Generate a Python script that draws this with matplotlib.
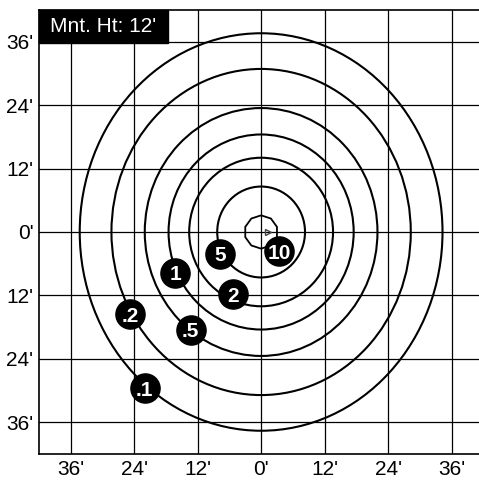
import matplotlib
matplotlib.use('Agg')
import matplotlib.pyplot as plt
from matplotlib.patches import Ellipse, RegularPolygon, Rectangle

plt.rcParams['font.family'] = ['Liberation Sans', 'DejaVu Sans']

# iso-footcandle contours (feet), centred on the luminaire
levels = ['.1', '.2', '.5', '1', '2', '5']
half_w = [34.3, 28.3, 22.0, 17.5, 13.6, 8.3]
half_h = [37.6, 30.85, 23.45, 18.45, 14.05, 8.6]
inner_level = '10'
inner_r = 3.15

# label bubbles
lab_text = ['.1', '.2', '.5', '1', '2', '5', '10']
lab_x = [-22.0, -24.7, -13.3, -16.2, -5.3, -7.8, 3.35]
lab_y = [-29.6, -15.6, -18.45, -7.7, -11.8, -4.1, -3.6]

ticks = [-36, -24, -12, 0, 12, 24, 36]
tick_labels = ["36'", "24'", "12'", "0'", "12'", "24'", "36'"]
mount = "Mnt. Ht: 12'"

fig = plt.figure(figsize=(4.79, 4.80), dpi=100)
ax = fig.add_axes([39/479, 26/480, 440/479, 444/480])

for w, h in zip(half_w, half_h):
    ax.add_patch(Ellipse((0, 0), 2*w, 2*h, fill=False, ec='black', lw=1.5, zorder=3))
ax.add_patch(RegularPolygon((0, 0), numVertices=10, radius=inner_r, fill=False,
                            ec='black', lw=1.3, zorder=3))

# luminaire marker
ax.plot([1.3], [0], marker='>', ms=5, mfc='none', mec='#444444', mew=1, zorder=4)

for t, x, y in zip(lab_text, lab_x, lab_y):
    ax.plot([x], [y], 'o', ms=21, color='black', zorder=5)
    ax.text(x, y, t, color='white', fontsize=15, fontweight='bold',
            ha='center', va='center_baseline', zorder=6)

ax.set_xlim(-42, 41.2)
ax.set_ylim(-42, 42)
ax.set_xticks(ticks)
ax.set_yticks(ticks)
ax.set_xticklabels(tick_labels)
ax.set_yticklabels(tick_labels[::-1])
ax.tick_params(length=0, labelsize=15, pad=4)
ax.grid(True, color='black', lw=0.9)
ax.set_axisbelow(True)
ax.spines['right'].set_visible(False)
for s in ['left', 'bottom', 'top']:
    ax.spines[s].set_linewidth(1.2)

ax.add_patch(Rectangle((0, 0.9257), 0.293, 0.0743, transform=ax.transAxes,
                       color='black', zorder=7, clip_on=False))
ax.text(0.025, 0.963, mount, transform=ax.transAxes, color='white',
        fontsize=15, va='center', ha='left', zorder=8)

fig.savefig('out.png', dpi=100)
